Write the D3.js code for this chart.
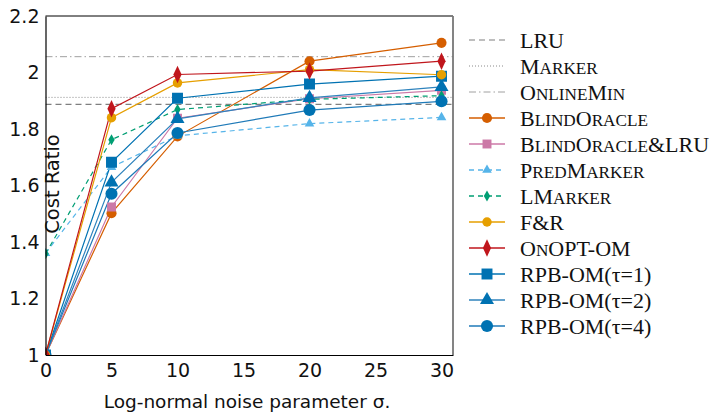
<!DOCTYPE html>
<html>
<head>
<meta charset="utf-8">
<script src="https://cdn.jsdelivr.net/npm/d3@7"></script>
<style>
    body { margin: 0; background: #fff; }
    .tick text { font-family: "DejaVu Sans", sans-serif; }
    .legendText { font-family: "Liberation Serif", "DejaVu Serif", serif; }
</style>
</head>
<body>
<svg id="chart" width="722" height="413"></svg>
<script>
(function () {

    //Noise levels on the x axis.
    var sigmas = [0, 5, 10, 20, 30];

    //Baseline algorithms, constant in sigma.
    var baseNames = ["LRU", "Marker", "OnlineMin"];
    var baseValues = [1.887, 1.912, 2.056];

    //Predictive algorithms, one value per sigma.
    var seriesNames = ["BlindOracle", "BlindOracle&LRU", "PredMarker", "LMarker", "F&R", "OnOPT-OM",
        "RPB-OM(τ=1)", "RPB-OM(τ=2)", "RPB-OM(τ=4)"];
    var blindOracle = [1.0, 1.502, 1.774, 2.040, 2.105];
    var blindOracleLru = [1.0, 1.524, 1.838, 1.907, 1.937];
    var predMarker = [1.36, 1.665, 1.776, 1.819, 1.841];
    var lMarker = [1.358, 1.762, 1.869, 1.905, 1.918];
    var fAndR = [1.0, 1.840, 1.963, 2.010, 1.992];
    var onOpt = [1.0, 1.872, 1.993, 2.005, 2.040];
    var rpb1 = [1.0, 1.682, 1.909, 1.959, 1.987];
    var rpb2 = [1.0, 1.611, 1.836, 1.910, 1.949];
    var rpb4 = [1.0, 1.571, 1.786, 1.867, 1.898];

    var yTicks = [1, 1.2, 1.4, 1.6, 1.8, 2, 2.2];
    var xTicks = [0, 5, 10, 15, 20, 25, 30];

    var left = 45.5, right = 453, top = 16, bottom = 355;

    var svg = d3.select("#chart");

    var x = d3.scaleLinear().domain([0, 30.87]).range([left, right]);
    var y = d3.scaleLinear().domain([1, 2.2]).range([bottom, top]);

    //Style of every series: colour, dash, marker.
    var baseStyles = [
        { color: "#7f7f7f", dash: "6,4", width: 1.2 },
        { color: "#8a8a8a", dash: "1,2", width: 1 },
        { color: "#a0a0a0", dash: "7,3,1.5,3", width: 1 }
    ];
    var styles = [
        { color: "#d55e00", line: "#d55e00", dash: null, symbol: d3.symbolCircle, size: 80 },
        { color: "#cc79a7", line: "#cc79a7", dash: null, symbol: d3.symbolSquare, size: 80 },
        { color: "#56b4e9", line: "#56b4e9", dash: "5,4", symbol: d3.symbolTriangle, size: 40 },
        { color: "#009e73", line: "#009e73", dash: "5,4", symbol: d3.symbolDiamond, size: 35 },
        { color: "#e69f00", line: "#e69f00", dash: null, symbol: d3.symbolPentagon || d3.symbolCircle, size: 70 },
        { color: "#c0161c", line: "#c0161c", dash: null, symbol: d3.symbolDiamond, size: 80 },
        { color: "#0072b2", line: "#0072b2", dash: null, symbol: d3.symbolSquare, size: 120 },
        { color: "#0072b2", line: "#2f83bd", dash: null, symbol: d3.symbolTriangle, size: 85 },
        { color: "#0072b2", line: "#1f7ab8", dash: null, symbol: d3.symbolCircle, size: 115 }
    ];
    var seriesValues = [blindOracle, blindOracleLru, predMarker, lMarker, fAndR, onOpt, rpb1, rpb2, rpb4];

    //Clip so nothing runs past the frame.
    svg.append("clipPath").attr("id", "clip")
        .append("rect")
        .attr("x", left).attr("y", top)
        .attr("width", right - left).attr("height", bottom - top);

    var plot = svg.append("g").attr("clip-path", "url(#clip)");

    //Baselines as horizontal lines.
    baseValues.forEach(function (v, i) {
        plot.append("line")
            .attr("x1", left).attr("x2", right)
            .attr("y1", y(v)).attr("y2", y(v))
            .attr("stroke", baseStyles[i].color)
            .attr("stroke-width", baseStyles[i].width)
            .attr("stroke-dasharray", baseStyles[i].dash);
    });

    var line = d3.line()
        .x(function (d, i) { return x(sigmas[i]); })
        .y(function (d) { return y(d); });

    //Draw series in order, later ones on top.
    var order = [0, 1, 2, 3, 8, 7, 6, 4, 5];
    order.forEach(function (s) {
        var st = styles[s];
        plot.append("path")
            .datum(seriesValues[s])
            .attr("d", line)
            .attr("fill", "none")
            .attr("stroke", st.line)
            .attr("stroke-width", 1.2)
            .attr("stroke-dasharray", st.dash);
    });
    order.forEach(function (s) {
        var st = styles[s];
        plot.selectAll(".m" + s)
            .data(seriesValues[s])
            .enter()
            .append("path")
            .attr("class", "m" + s)
            .attr("transform", function (d, i) {
                var sc = s === 5 ? "scale(0.85,1.05)" : "";
                return "translate(" + x(sigmas[i]) + "," + y(d) + ")" + sc;
            })
            .attr("d", d3.symbol().type(st.symbol).size(st.size))
            .attr("fill", st.color);
    });

    //Frame.
    svg.append("line").attr("x1", left).attr("x2", right).attr("y1", top).attr("y2", top)
        .attr("stroke", "#000").attr("stroke-width", 1);
    svg.append("line").attr("x1", right).attr("x2", right).attr("y1", top).attr("y2", bottom)
        .attr("stroke", "#777").attr("stroke-width", 1.8);

    var xAxis = d3.axisBottom(x).tickValues(xTicks).tickSize(0).tickPadding(9)
        .tickFormat(d3.format("d"));
    svg.append("g")
        .attr("transform", "translate(0," + bottom + ")")
        .call(xAxis)
        .call(function (g) { g.select(".domain").attr("stroke", "#000").attr("stroke-width", 1.2); })
        .selectAll("text").attr("font-size", 19).attr("fill", "#111");

    var yAxis = d3.axisLeft(y).tickValues(yTicks).tickSize(0).tickPadding(6)
        .tickFormat(function (d) { return d3.format("")(+d.toFixed(1)); });
    svg.append("g")
        .attr("transform", "translate(" + left + ",0)")
        .call(yAxis)
        .call(function (g) { g.select(".domain").attr("stroke", "#000").attr("stroke-width", 1.2); })
        .selectAll("text").attr("font-size", 19).attr("fill", "#111");

    //Axis titles.
    svg.append("text")
        .attr("transform", "translate(59,184) rotate(-90)")
        .attr("text-anchor", "middle")
        .attr("font-family", "DejaVu Sans, sans-serif")
        .attr("font-size", 19.5)
        .attr("fill", "#111")
        .text("Cost Ratio");

    svg.append("text")
        .attr("x", 247).attr("y", 408)
        .attr("text-anchor", "middle")
        .attr("font-family", "DejaVu Sans, sans-serif")
        .attr("font-size", 18.5)
        .attr("fill", "#111")
        .text("Log-normal noise parameter σ.");

    //Splits a name into runs of capitals and small caps.
    function smallCapRuns(name) {
        var runs = [];
        for (var c = 0; c < name.length; c++) {
            var ch = name[c];
            var small = ch !== ch.toUpperCase() && ch !== "τ";
            if (runs.length && runs[runs.length - 1].small === small) {
                runs[runs.length - 1].text += small ? ch.toUpperCase() : ch;
            } else {
                runs.push({ small: small, text: small ? ch.toUpperCase() : ch });
            }
        }
        return runs;
    }

    //Legend.
    var legendNames = baseNames.concat(seriesNames);
    var legend = svg.append("g");
    legendNames.forEach(function (name, i) {
        var ly = 40 + i * 26.0;
        var g = legend.append("g").attr("transform", "translate(0," + ly + ")");
        if (i < 3) {
            var bs = baseStyles[i];
            g.append("line").attr("x1", 469).attr("x2", 505)
                .attr("stroke", bs.color).attr("stroke-width", bs.width)
                .attr("stroke-dasharray", bs.dash);
        } else {
            var st = styles[i - 3];
            g.append("line").attr("x1", 469).attr("x2", 505)
                .attr("stroke", st.line).attr("stroke-width", 1.4)
                .attr("stroke-dasharray", st.dash);
            g.append("path")
                .attr("transform", "translate(487,0)" + (i - 3 === 5 ? "scale(0.85,1.05)" : ""))
                .attr("d", d3.symbol().type(st.symbol).size(st.size))
                .attr("fill", st.color);
        }
        var t = g.append("text")
            .attr("class", "legendText")
            .attr("x", 520).attr("y", 7.5)
            .attr("font-size", 22)
            .attr("fill", "#111");
        smallCapRuns(name).forEach(function (r) {
            t.append("tspan")
                .attr("font-size", r.small ? 17.2 : 22)
                .text(r.text);
        });
    });

})();
</script>
</body>
</html>
